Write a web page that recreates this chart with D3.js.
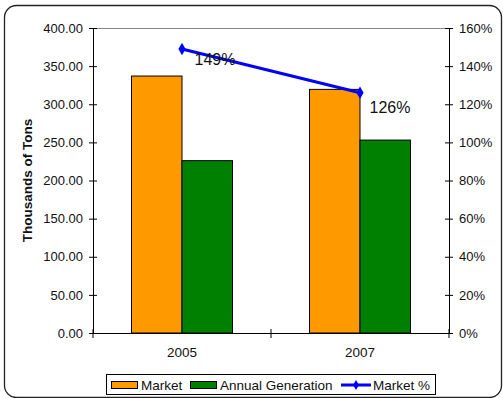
<!DOCTYPE html>
<html>
<head>
<meta charset="utf-8">
<script src="https://cdn.jsdelivr.net/npm/d3@7"></script>
<style>
  body { margin: 0; background: #fff; }
  text { font-family: "Liberation Sans", Arial, sans-serif; }
</style>
</head>
<body>
<svg id="chart"></svg>
<script>
var width = 503;
var height = 398;

// data
var years = ["2005", "2007"];
var marketTons = [337, 319.5];
var generationTons = [226, 253];
var marketPct = [149, 126];
var seriesNames = ["Market", "Annual Generation", "Market %"];
var leftTicks = [0, 50, 100, 150, 200, 250, 300, 350, 400];
var rightTicks = [0, 20, 40, 60, 80, 100, 120, 140, 160];

var orange = "#FF9900";
var green = "#008000";
var blue = "#0000FF";

var plot = {left: 93, right: 449, top: 28, bottom: 333};

var svg = d3.select("#chart")
    .attr("width", width)
    .attr("height", height);

// outer frame
svg.append("rect")
    .attr("x", 4.5).attr("y", 5.5)
    .attr("width", 497).attr("height", 392)
    .attr("rx", 12).attr("ry", 12)
    .style("fill", "none")
    .style("stroke", "#222")
    .style("stroke-width", 1.3);

var x = d3.scaleBand().domain(years).range([plot.left, plot.right]);
var xInner = d3.scaleBand().domain(["m", "g"]).range([0, 101]);
var yLeft = d3.scaleLinear().domain([0, 400]).range([plot.bottom, plot.top]);
var yRight = d3.scaleLinear().domain([0, 160]).range([plot.bottom, plot.top]);

// top gridline
svg.append("line")
    .attr("x1", plot.left).attr("x2", plot.right)
    .attr("y1", yLeft(400) + 0.5).attr("y2", yLeft(400) + 0.5)
    .style("stroke", "#888");

// bars
var groups = svg.selectAll(".grp")
    .data(years)
  .enter().append("g")
    .attr("transform", function(d) { return "translate(" + (x(d) + x.bandwidth() / 2 - 50.5) + ",0)"; });

groups.append("rect")
    .attr("x", xInner("m"))
    .attr("y", function(d, i) { return yLeft(marketTons[i]); })
    .attr("width", xInner.bandwidth())
    .attr("height", function(d, i) { return plot.bottom - yLeft(marketTons[i]); })
    .style("fill", orange).style("stroke", "#000");

groups.append("rect")
    .attr("x", xInner("g"))
    .attr("y", function(d, i) { return yLeft(generationTons[i]); })
    .attr("width", xInner.bandwidth())
    .attr("height", function(d, i) { return plot.bottom - yLeft(generationTons[i]); })
    .style("fill", green).style("stroke", "#000");

// axes
var leftAxis = svg.append("g")
    .attr("transform", "translate(" + plot.left + ",0)")
    .call(d3.axisLeft(yLeft).tickValues(leftTicks).tickFormat(d3.format(".2f")).tickSizeInner(4).tickSizeOuter(0).tickPadding(6));
leftAxis.selectAll(".tick line").attr("x2", 4).attr("x1", -4);

var rightAxis = svg.append("g")
    .attr("transform", "translate(" + plot.right + ",0)")
    .call(d3.axisRight(yRight).tickValues(rightTicks).tickFormat(function(d) { return d + "%"; }).tickSizeInner(4).tickSizeOuter(0).tickPadding(6));
rightAxis.selectAll(".tick line").attr("x1", -4).attr("x2", 4);

var bottomAxis = svg.append("g")
    .attr("transform", "translate(0," + plot.bottom + ")")
    .call(d3.axisBottom(x).tickSize(0).tickPadding(14));

// category boundary ticks
svg.selectAll(".cat-tick")
    .data([plot.left, x(years[1]), plot.right])
  .enter().append("line")
    .attr("x1", function(d) { return d; }).attr("x2", function(d) { return d; })
    .attr("y1", plot.bottom - 4).attr("y2", plot.bottom + 5)
    .style("stroke", "#000");

svg.selectAll(".domain").style("stroke", "#000");
svg.selectAll(".tick line").style("stroke", "#000");
svg.selectAll(".tick text")
    .style("font-size", "13px")
    .style("fill", "#111")
    .style("font-family", "Liberation Sans, Arial, sans-serif");
bottomAxis.selectAll(".tick text").style("font-size", "13.5px");

// market % line
var line = d3.line()
    .x(function(d, i) { return x(years[i]) + x.bandwidth() / 2; })
    .y(function(d) { return yRight(d); });

svg.append("path")
    .datum(marketPct)
    .attr("d", line)
    .style("fill", "none")
    .style("stroke", blue)
    .style("stroke-width", 3);

svg.selectAll(".pt")
    .data(marketPct)
  .enter().append("path")
    .attr("d", d3.symbol().type(d3.symbolDiamond).size(45))
    .attr("transform", function(d, i) { return "translate(" + (x(years[i]) + x.bandwidth() / 2) + "," + yRight(d) + ")"; })
    .style("fill", blue);

var labelOffsets = [[33, 16], [30, 20]];
svg.selectAll(".pct-label")
    .data(marketPct)
  .enter().append("text")
    .attr("x", function(d, i) { return x(years[i]) + x.bandwidth() / 2 + labelOffsets[i][0]; })
    .attr("y", function(d, i) { return yRight(d) + labelOffsets[i][1]; })
    .attr("text-anchor", "middle")
    .style("font-size", "16px")
    .style("fill", "#111")
    .text(function(d) { return d + "%"; });

// y axis title
svg.append("text")
    .attr("transform", "translate(32," + ((plot.top + plot.bottom) / 2) + ") rotate(-90)")
    .attr("text-anchor", "middle")
    .style("font-size", "13.5px")
    .style("font-weight", "bold")
    .style("fill", "#111")
    .text("Thousands of Tons");

// legend
var legend = svg.append("g");
legend.append("rect")
    .attr("x", 106.5).attr("y", 374.5)
    .attr("width", 329).attr("height", 20)
    .style("fill", "#fff").style("stroke", "#000");

var legendX = [111, 190, 341];
var legendColors = [orange, green, blue];
seriesNames.forEach(function(name, i) {
  if (i < 2) {
    legend.append("rect")
        .attr("x", legendX[i] + 0.5).attr("y", 381.5)
        .attr("width", 26).attr("height", 7)
        .style("fill", legendColors[i]).style("stroke", "#000");
  } else {
    legend.append("line")
        .attr("x1", legendX[i]).attr("x2", legendX[i] + 30)
        .attr("y1", 385).attr("y2", 385)
        .style("stroke", blue).style("stroke-width", 3);
    legend.append("path")
        .attr("d", d3.symbol().type(d3.symbolDiamond).size(30))
        .attr("transform", "translate(" + (legendX[i] + 15) + ",385)")
        .style("fill", blue);
  }
  legend.append("text")
      .attr("x", legendX[i] + (i < 2 ? 30 : 32))
      .attr("y", 390)
      .style("font-size", "13.5px")
      .style("fill", "#111")
      .text(name);
});
</script>
</body>
</html>
